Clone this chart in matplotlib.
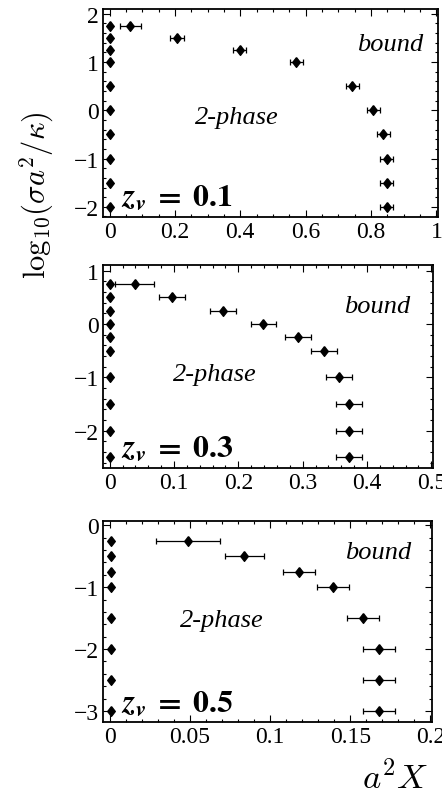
import matplotlib.pyplot as plt
from matplotlib.ticker import MultipleLocator

# unbound column at X = 0, one entry per coupling value
y_left1 = [1.75, 1.5, 1.25, 1.0, 0.5, 0.0, -0.5, -1.0, -1.5, -2.0]
y_left2 = [0.75, 0.5, 0.25, 0.0, -0.25, -0.5, -1.0, -1.5, -2.0, -2.5]
y_left3 = [-0.25, -0.5, -0.75, -1.0, -1.5, -2.0, -2.5, -3.0]
x_left1 = [0.0] * len(y_left1)
x_left2 = [0.0] * len(y_left2)
x_left3 = [0.0005] * len(y_left3)

# bound-phase boundary with horizontal errors
y_b1 = [1.75, 1.5, 1.25, 1.0, 0.5, 0.0, -0.5, -1.0, -1.5, -2.0]
x_b1 = [0.063, 0.207, 0.398, 0.572, 0.743, 0.807, 0.838, 0.848, 0.848, 0.848]
e_b1 = [0.032, 0.021, 0.02, 0.021, 0.02, 0.02, 0.021, 0.02, 0.02, 0.02]

y_b2 = [0.75, 0.5, 0.25, 0.0, -0.25, -0.5, -1.0, -1.5, -2.0, -2.5]
x_b2 = [0.039, 0.097, 0.176, 0.239, 0.293, 0.333, 0.357, 0.372, 0.372, 0.372]
e_b2 = [0.03, 0.02, 0.02, 0.02, 0.02, 0.02, 0.02, 0.02, 0.02, 0.02]

y_b3 = [-0.25, -0.5, -0.75, -1.0, -1.5, -2.0, -2.5, -3.0]
x_b3 = [0.049, 0.084, 0.118, 0.139, 0.158, 0.168, 0.168, 0.168]
e_b3 = [0.02, 0.012, 0.01, 0.01, 0.01, 0.01, 0.01, 0.01]

labels = ['0.1', '0.3', '0.5']

plt.rcParams['font.family'] = 'Liberation Serif'
plt.rcParams['mathtext.fontset'] = 'cm'

fig = plt.figure(figsize=(4.42, 8.04), dpi=100)

# axes boxes in figure fractions
boxes = [
    [0.233, 0.7289, 0.758, 0.2587],
    [0.233, 0.4167, 0.7466, 0.2525],
    [0.233, 0.1007, 0.7443, 0.25],
]
xlims = [(-0.02, 1.005), (-0.0104, 0.5026), (-0.0042, 0.201)]
ylims = [(-2.21, 2.10), (-2.70, 1.107), (-3.18, 0.07)]
xminor = [0.05, 0.02, 0.01]
ymajor = [1, 1, 1]
yminor = [0.2, 0.2, 0.2]
xticklabels = [['0', '0.2', '0.4', '0.6', '0.8', '1'],
               ['0', '0.1', '0.2', '0.3', '0.4', '0.5'],
               ['0', '0.05', '0.1', '0.15', '0.2']]
xticks = [[0, 0.2, 0.4, 0.6, 0.8, 1.0],
          [0, 0.1, 0.2, 0.3, 0.4, 0.5],
          [0, 0.05, 0.1, 0.15, 0.2]]

# positions of the "bound" / "2-phase" captions (axes fractions)
bound_pos = [(0.857, 0.83), (0.83, 0.80), (0.836, 0.846)]
phase_pos = [(0.40, 0.48), (0.34, 0.463), (0.36, 0.51)]

lefts = [(x_left1, y_left1), (x_left2, y_left2), (x_left3, y_left3)]
bounds = [(x_b1, y_b1, e_b1), (x_b2, y_b2, e_b2), (x_b3, y_b3, e_b3)]

diamond = [(0, 1), (0.78, 0), (0, -1), (-0.78, 0), (0, 1)]

for i in range(3):
    ax = fig.add_axes(boxes[i])
    xl, yl = lefts[i]
    xb, yb, eb = bounds[i]
    ax.plot(xl, yl, linestyle='none', marker=diamond, markersize=7,
            color='black', clip_on=False)
    ax.errorbar(xb, yb, xerr=eb, fmt='none', ecolor='black',
                elinewidth=0.9, capsize=2.5, capthick=0.9)
    ax.plot(xb, yb, linestyle='none', marker=diamond, markersize=7,
            color='black')

    ax.set_xlim(*xlims[i])
    ax.set_ylim(*ylims[i])
    ax.set_xticks(xticks[i])
    ax.set_xticklabels(xticklabels[i])
    ax.xaxis.set_minor_locator(MultipleLocator(xminor[i]))
    ax.yaxis.set_major_locator(MultipleLocator(ymajor[i]))
    ax.yaxis.set_minor_locator(MultipleLocator(yminor[i]))
    ax.tick_params(which='both', direction='in', top=True, right=True,
                   labelsize=17, width=0.8, pad=3)
    ax.tick_params(which='major', length=5)
    ax.tick_params(which='minor', length=2.5)
    for s in ax.spines.values():
        s.set_linewidth(1.3)

    ax.text(*bound_pos[i], 'bound', transform=ax.transAxes,
            ha='center', va='center', fontsize=19, style='italic')
    ax.text(*phase_pos[i], '2-phase', transform=ax.transAxes,
            ha='center', va='center', fontsize=19, style='italic')
    ax.text(0.055, 0.02,
            r'$\mathbfit{z_v}\;\mathbf{=}\;\mathbf{' + labels[i] + '}$',
            transform=ax.transAxes, ha='left', va='bottom', fontsize=23,
            math_fontfamily='stix')

fig.text(0.083, 0.757, r'$\mathrm{log}_{10}(\sigma a^2/\kappa)$', rotation=90,
         ha='center', va='center', fontsize=22)
fig.text(0.893, 0.031, r'$a^2X$', ha='center', va='center', fontsize=25)

fig.savefig('out.png', dpi=100)
